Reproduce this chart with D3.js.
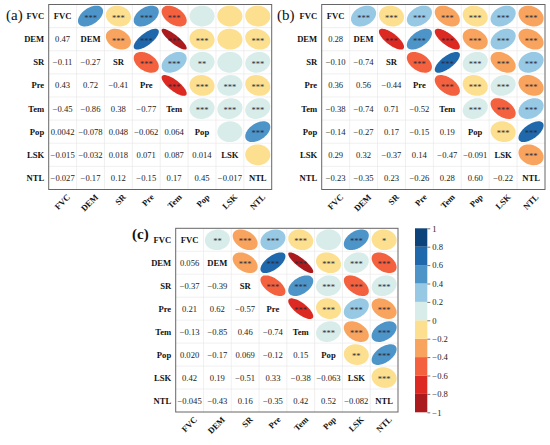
<!DOCTYPE html>
<html>
<head>
<meta charset="utf-8">
<script src="https://cdn.jsdelivr.net/npm/d3@7/dist/d3.min.js"></script>
<style>
  body { margin: 0; background: #fff; }
  svg { display: block; }
  svg text { font-family: 'Liberation Serif', Tinos, Times, 'DejaVu Serif', serif; }
</style>
</head>
<body>
<svg id="chart" width="550" height="445"></svg>
<script>
// --- Data ---
const vars = ['FVC', 'DEM', 'SR', 'Pre', 'Tem', 'Pop', 'LSK', 'NTL'];

// lower triangle: row i holds r(var_i, var_j) for j < i
const corrA = [
  [],
  ['0.47'],
  ['-0.11', '-0.27'],
  ['0.43', '0.72', '-0.41'],
  ['-0.45', '-0.86', '0.38', '-0.77'],
  ['0.0042', '-0.078', '0.048', '-0.062', '0.064'],
  ['-0.015', '-0.032', '0.018', '0.071', '0.087', '0.014'],
  ['-0.027', '-0.17', '0.12', '-0.15', '0.17', '0.45', '-0.017']
];
const corrB = [
  [],
  ['0.28'],
  ['-0.10', '-0.74'],
  ['0.36', '0.56', '-0.44'],
  ['-0.38', '-0.74', '0.71', '-0.52'],
  ['-0.14', '-0.27', '0.17', '-0.15', '0.19'],
  ['0.29', '0.32', '-0.37', '0.14', '-0.47', '-0.091'],
  ['-0.23', '-0.35', '0.23', '-0.26', '0.28', '0.60', '-0.22']
];
const corrC = [
  [],
  ['0.056'],
  ['-0.37', '-0.39'],
  ['0.21', '0.62', '-0.57'],
  ['-0.13', '-0.85', '0.46', '-0.74'],
  ['0.020', '-0.17', '0.069', '-0.12', '0.15'],
  ['0.42', '0.19', '-0.51', '0.33', '-0.38', '-0.063'],
  ['-0.045', '-0.43', '0.16', '-0.35', '0.42', '0.52', '-0.082']
];

// upper triangle significance: row i holds marks for j > i
const sigA = [
  ['***', '***', '***', '***', '', '', ''],
  ['***', '***', '***', '***', '', '***'],
  ['***', '***', '**', '', '***'],
  ['***', '***', '***', '***'],
  ['***', '***', '***'],
  ['', '***'],
  ['']
];
const sigB = [
  ['***', '***', '***', '***', '***', '***', '***'],
  ['***', '***', '***', '***', '***', '***'],
  ['***', '***', '***', '***', '***'],
  ['***', '***', '***', '***'],
  ['***', '***', '***'],
  ['***', '***'],
  ['***']
];
const sigC = [
  ['**', '***', '***', '***', '', '***', '*'],
  ['***', '***', '***', '***', '***', '***'],
  ['***', '***', '***', '***', '***'],
  ['***', '***', '***', '***'],
  ['***', '***', '***'],
  ['**', '***'],
  ['***']
];

const binEdges = [-1, -0.8, -0.6, -0.4, -0.2, 0, 0.2, 0.4, 0.6, 0.8, 1];
const binColors = ['#ab1a1d', '#dc2a23', '#f4613f', '#f9a45e', '#fddf90',
                   '#d8ede9', '#98c9e4', '#4d94c8', '#1e68ab', '#0c437a'];
const cbTicks = [-1, -0.8, -0.6, -0.4, -0.2, 0, 0.2, 0.4, 0.6, 0.8, 1];

// --- Layout ---
const PANELS = [
  { tag: '(a)', corr: corrA, sig: sigA, box: [48.7, 4.5, 271.7, 189.5], tagX: 6, tagY: 20, bold: false },
  { tag: '(b)', corr: corrB, sig: sigB, box: [321.7, 4.5, 545, 189.5], tagX: 277, tagY: 20, bold: false },
  { tag: '(c)', corr: corrC, sig: sigC, box: [175.7, 228.3, 398, 412], tagX: 132, tagY: 239, bold: true }
];
const CB = { x: 415, w: 12.3, y0: 228.3, y1: 412.3 };
const FS = 8.6;

const color = d3.scaleThreshold().domain(binEdges.slice(1, -1)).range(binColors);
const svg = d3.select('#chart');
const minus = s => s.replace('-', '\u2212');

function value(corr, i, j) {
  return i > j ? +corr[i][j] : +corr[j][i];
}

// corrplot-style ellipse in unit coordinates (y up)
function ellipsePts(rho, n = 72) {
  const d = Math.acos(Math.max(-0.999, Math.min(0.999, rho)));
  const s = 0.9;
  return d3.range(n).map(k => {
    const t = (k / n) * 2 * Math.PI;
    return [s * Math.cos(t + d / 2) / 2, s * Math.cos(t - d / 2) / 2];
  });
}

function drawPanel(p) {
  const [x0, y0, x1, y1] = p.box;
  const x = d3.scaleBand().domain(vars).range([x0, x1]);
  const y = d3.scaleBand().domain(vars).range([y0, y1]);
  const bw = x.bandwidth(), bh = y.bandwidth();
  const g = svg.append('g');

  // grid
  g.append('g').selectAll('line.v').data(vars.slice(1)).join('line')
    .attr('x1', d => x(d)).attr('x2', d => x(d)).attr('y1', y0).attr('y2', y1)
    .attr('stroke', '#e6e6e6').attr('stroke-width', 0.6);
  g.append('g').selectAll('line.h').data(vars.slice(1)).join('line')
    .attr('y1', d => y(d)).attr('y2', d => y(d)).attr('x1', x0).attr('x2', x1)
    .attr('stroke', '#e6e6e6').attr('stroke-width', 0.6);

  const cells = [];
  vars.forEach((rv, i) => vars.forEach((cv, j) => cells.push({ i, j, rv, cv })));

  // upper: ellipses + stars
  const upper = cells.filter(c => c.j > c.i);
  const line = d3.line().curve(d3.curveLinearClosed);
  g.append('g').selectAll('path').data(upper).join('path')
    .attr('d', c => {
      const cx = x(c.cv) + bw / 2, cy = y(c.rv) + bh / 2;
      return line(ellipsePts(value(p.corr, c.i, c.j)).map(([u, v]) => [cx + u * bw, cy - v * bh]));
    })
    .attr('fill', c => color(value(p.corr, c.i, c.j)));
  g.append('g').selectAll('text').data(upper).join('text')
    .attr('x', c => x(c.cv) + bw / 2)
    .attr('y', c => y(c.rv) + bh / 2 + 4.6)
    .attr('text-anchor', 'middle')
    .attr('font-size', 8.5)
    .attr('fill', '#2b2b3a')
    .text(c => p.sig[c.i][c.j - c.i - 1]);

  // lower: numbers
  const lower = cells.filter(c => c.j < c.i);
  g.append('g').selectAll('text').data(lower).join('text')
    .attr('x', c => x(c.cv) + bw / 2)
    .attr('y', c => y(c.rv) + bh / 2)
    .attr('dy', '0.35em')
    .attr('text-anchor', 'middle')
    .attr('font-size', FS)
    .attr('fill', '#222')
    .text(c => minus(p.corr[c.i][c.j]));

  // diagonal names
  g.append('g').selectAll('text').data(vars).join('text')
    .attr('x', d => x(d) + bw / 2)
    .attr('y', d => y(d) + bh / 2)
    .attr('dy', '0.35em')
    .attr('text-anchor', 'middle')
    .attr('font-size', FS)
    .attr('font-weight', 'bold')
    .attr('fill', '#111')
    .text(d => d);

  // frame
  g.append('rect').attr('x', x0).attr('y', y0).attr('width', x1 - x0).attr('height', y1 - y0)
    .attr('fill', 'none').attr('stroke', '#666').attr('stroke-width', 1);

  // row labels
  g.append('g').selectAll('text').data(vars).join('text')
    .attr('x', x0 - 4.5)
    .attr('y', d => y(d) + bh / 2)
    .attr('dy', '0.35em')
    .attr('text-anchor', 'end')
    .attr('font-size', FS)
    .attr('font-weight', 'bold')
    .attr('fill', '#111')
    .text(d => d);

  // column labels (rotated)
  g.append('g').selectAll('text').data(vars).join('text')
    .attr('transform', d => `translate(${x(d) + bw / 2 + 6},${y1 + 6}) rotate(-45)`)
    .attr('text-anchor', 'end')
    .attr('dy', '0.35em')
    .attr('font-size', FS)
    .attr('font-weight', 'bold')
    .attr('fill', '#111')
    .text(d => d);

  // panel tag
  svg.append('text')
    .attr('x', p.tagX).attr('y', p.tagY)
    .attr('font-size', 15)
    .attr('font-weight', p.bold ? 'bold' : 'normal')
    .attr('fill', '#111')
    .text(p.tag);
}

PANELS.forEach(drawPanel);

// --- Colour bar ---
const cy = d3.scaleLinear().domain([-1, 1]).range([CB.y1, CB.y0]);
const bins = binColors.map((c, k) => ({ lo: binEdges[k], hi: binEdges[k + 1], c }));
svg.append('g').selectAll('rect').data(bins).join('rect')
  .attr('x', CB.x).attr('width', CB.w)
  .attr('y', d => cy(d.hi)).attr('height', d => cy(d.lo) - cy(d.hi))
  .attr('fill', d => d.c);

const cbAxis = svg.append('g')
  .attr('transform', `translate(${CB.x + CB.w},0)`)
  .call(d3.axisRight(cy).tickValues(cbTicks).tickSize(3).tickPadding(2)
    .tickFormat(d => d === 0 ? '0' : d3.format('')(+d.toFixed(1))));
cbAxis.attr('font-family', null);
cbAxis.select('.domain').remove();
cbAxis.selectAll('.tick line').attr('stroke', '#777');
cbAxis.selectAll('.tick text').attr('font-size', FS).attr('fill', '#222');
</script>
</body>
</html>
